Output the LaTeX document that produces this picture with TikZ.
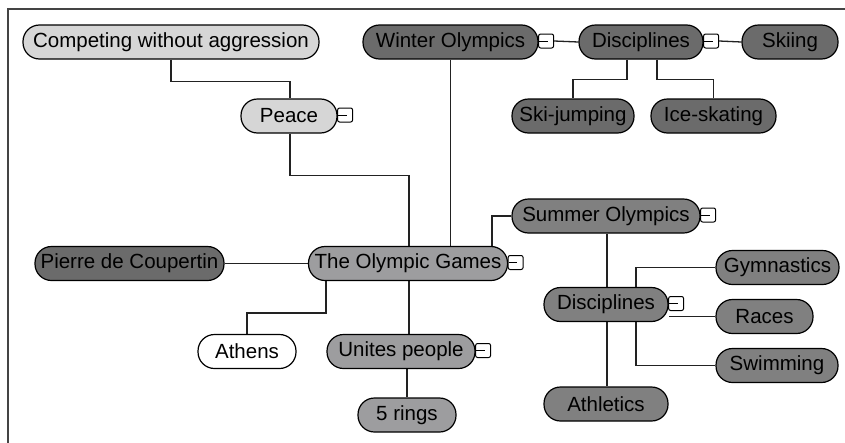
\documentclass[tikz,border=0pt]{standalone}
\usepackage{fontspec}
\setmainfont{Liberation Sans}
\usetikzlibrary{backgrounds}
\definecolor{cLight}{HTML}{D6D6D6}
\definecolor{cMid}{HTML}{9D9D9F}
\definecolor{cSum}{HTML}{808080}
\definecolor{cDark}{HTML}{6B6B6B}
\definecolor{cLine}{HTML}{222222}
\definecolor{cFrame}{HTML}{444444}
\tikzset{
  topic/.style={draw=black, line width=1.2pt, rounded corners=16.5pt, minimum height=34pt,
    inner sep=0pt, text=black, font=\fontsize{20.5}{21}\selectfont},
  conn/.style={draw=cLine, line width=1.3pt},
  cbox/.style={draw=black, line width=1pt, fill=white, rounded corners=2pt, minimum width=15pt,
    minimum height=14pt, inner sep=0pt, anchor=west},
}
\newcommand{\collapsebox}[1]{%
  \node[cbox] (#1-c) at ([xshift=-0.5pt,yshift=1pt]#1.east) {};
  \draw[line width=1pt] ([xshift=1pt]#1-c.west) -- ([xshift=1.5pt]#1-c.center);
}
\begin{document}
\begin{tikzpicture}[x=1pt,y=-1pt]
\useasboundingbox (0,0) rectangle (845,442);
\draw[cFrame, line width=1.5pt] (8,445) -- (8,9) -- (848,9);

\node[topic, fill=cLight, minimum width=296pt] (comp) at (171,42) {Competing without aggression};
\node[topic, fill=cLight, minimum width=96pt] (peace) at (289,116) {Peace};
\node[topic, fill=cDark, minimum width=175pt] (wo) at (450.5,42) {Winter Olympics};
\node[topic, fill=cDark, minimum width=124pt] (wdisc) at (641,42) {Disciplines};
\node[topic, fill=cDark, minimum width=96pt] (ski) at (790,42) {Skiing};
\node[topic, fill=cDark, minimum width=122pt] (sj) at (573,116) {Ski-jumping};
\node[topic, fill=cDark, minimum width=125pt] (ice) at (713.5,116) {Ice-skating};
\node[topic, fill=cMid, minimum width=199pt] (og) at (408,263.5) {The Olympic Games};
\node[topic, fill=cSum, minimum width=188pt] (so) at (606,216) {Summer Olympics};
\node[topic, fill=cDark, minimum width=189pt] (pierre) at (129.5,263.5) {Pierre de Coupertin};
\node[topic, fill=white, minimum width=98pt] (athens) at (247,351.5) {Athens};
\node[topic, fill=cMid, minimum width=148pt] (up) at (401,351.5) {Unites people};
\node[topic, fill=cMid, minimum width=98pt] (rings) at (407,415) {5 rings};
\node[topic, fill=cSum, minimum width=124pt] (sd) at (606,304.5) {Disciplines};
\node[topic, fill=cSum, minimum width=123pt] (gym) at (777.5,267.5) {Gymnastics};
\node[topic, fill=cSum, minimum width=97pt] (races) at (764.5,316.5) {Races};
\node[topic, fill=cSum, minimum width=122pt] (swim) at (777,365.5) {Swimming};
\node[topic, fill=cSum, minimum width=124pt] (ath) at (606,404) {Athletics};

\collapsebox{peace}
\collapsebox{wo}
\collapsebox{wdisc}
\collapsebox{og}
\collapsebox{so}
\collapsebox{up}
\collapsebox{sd}

\begin{pgfonlayer}{background}
  \draw[conn] (comp.south) -- ++(0,22) -| ([xshift=1pt]peace.north);
  \draw[conn] ([xshift=1pt]peace.south) -- ++(0,42) -| ([xshift=1pt]og.north);
  \draw[conn] (wo.south) -- (wo.south |- og.north);
  \draw[conn] ([xshift=84pt]og.north) |- (so.west);
  \draw[conn] (pierre.east) -- (og.west);
  \draw[conn] ([xshift=-82pt]og.south) -- ++(0,32) -| (athens.north);
  \draw[conn] ([xshift=1pt]og.south) -- ([xshift=1pt]og.south |- up.north);
  \draw[conn] (rings.north) -- (rings.north |- up.south);
  \draw[conn] (wo-c.east) -- (wdisc.west);
  \draw[conn] (wdisc-c.east) -- (ski.west);
  \draw[conn] ([xshift=-14pt]wdisc.south) -- ++(0,20) -| (sj.north);
  \draw[conn] ([xshift=16pt]wdisc.south) -- ++(0,20) -| (ice.north);
  \draw[conn] ([xshift=1pt]so.south) -- ([xshift=1pt]so.south |- sd.north);
  \draw[conn] ([xshift=30pt]sd.north) |- (gym.west);
  \draw[conn] (races.west) -- (races.west -| sd.east);
  \draw[conn] ([xshift=30pt]sd.south) |- (swim.west);
  \draw[conn] ([xshift=1pt]sd.south) -- ([xshift=1pt]sd.south |- ath.north);
\end{pgfonlayer}
\end{tikzpicture}
\end{document}
